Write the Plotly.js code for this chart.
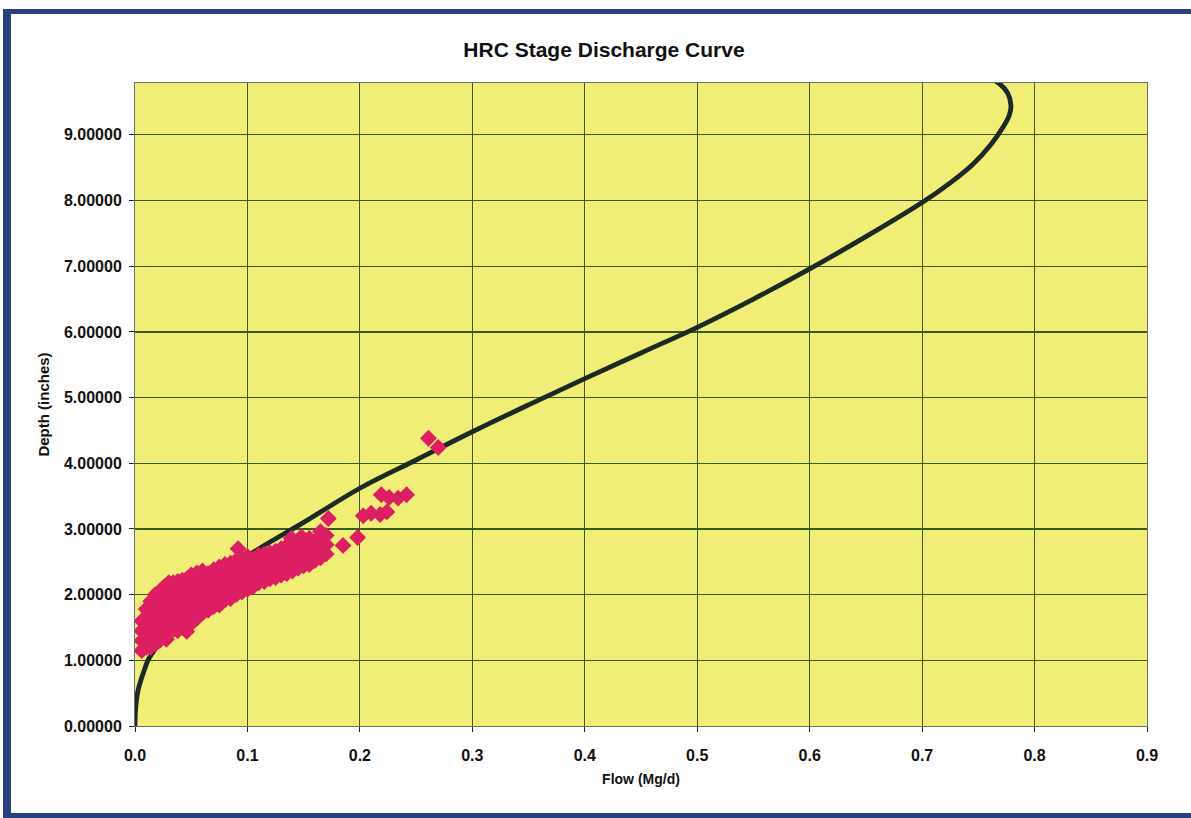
<!DOCTYPE html>
<html>
<head>
<meta charset="utf-8">
<script src="https://cdn.plot.ly/plotly-3.0.1.min.js"></script>
<style>
  html, body { margin: 0; padding: 0; background: #ffffff; }
  #chart { width: 1191px; height: 818px; }
</style>
</head>
<body>
<div id="chart"></div>
<script>
// Rating curve (stage-discharge)
const curveFlow  = [0, 0.0003, 0.0012, 0.0028, 0.0056, 0.0085, 0.0115, 0.019, 0.030, 0.044, 0.056, 0.077, 0.100, 0.150, 0.200, 0.250, 0.300, 0.350, 0.400, 0.450, 0.500, 0.550, 0.600, 0.650, 0.700, 0.725, 0.745, 0.761, 0.772, 0.7775, 0.779, 0.776, 0.768, 0.756];
const curveDepth = [0, 0.20, 0.38, 0.55, 0.72, 0.86, 1.00, 1.20, 1.50, 1.77, 2.00, 2.30, 2.59, 3.10, 3.62, 4.05, 4.48, 4.89, 5.29, 5.68, 6.07, 6.50, 6.96, 7.45, 7.97, 8.27, 8.55, 8.85, 9.12, 9.30, 9.45, 9.64, 9.79, 9.89];

const obsFlow = [
  0.006,0.006,0.006,0.006,
  0.010,0.010,0.010,0.010,0.010,
  0.014,0.014,0.014,0.014,0.014,0.014,
  0.018,0.018,0.018,0.018,0.018,0.018,
  0.022,0.022,0.022,0.022,0.022,0.022,
  0.026,0.026,0.026,0.026,0.026,0.026,
  0.028,
  0.030,0.030,0.030,0.030,0.030,0.030,
  0.034,0.034,0.034,0.034,0.034,0.034,
  0.038,0.038,0.038,0.038,0.038,0.038,
  0.042,0.042,0.042,0.042,0.042,0.042,
  0.046,0.046,0.046,0.046,0.046,0.046,
  0.050,0.050,0.050,0.050,0.050,0.050,
  0.055,0.055,0.055,0.055,0.055,0.055,
  0.060,0.060,0.060,0.060,0.060,0.060,
  0.065,0.065,0.065,0.065,0.065,
  0.070,0.070,0.070,0.070,0.070,
  0.075,0.075,0.075,0.075,0.075,
  0.080,0.080,0.080,0.080,0.080,
  0.085,0.085,0.085,0.085,0.085,
  0.090,0.090,0.090,0.090,0.090,
  0.095,0.095,0.095,0.095,0.095,
  0.100,0.100,0.100,0.100,0.100,
  0.105,0.105,0.105,0.105,
  0.110,0.110,0.110,0.110,
  0.115,0.115,0.115,0.115,
  0.120,0.120,0.120,0.120,
  0.125,0.125,0.125,0.125,
  0.130,0.130,0.130,0.130,
  0.135,0.135,0.135,0.135,
  0.140,0.140,0.140,0.140,
  0.145,0.145,0.145,
  0.150,0.150,0.150,
  0.155,0.155,0.155,0.155,
  0.160,0.160,0.160,
  0.165,0.165,0.165,0.165,
  0.170,0.170,0.170,
  0.172,0.0917,0.139,0.148,0.185,0.198,
  0.203,0.210,0.218,0.224,
  0.219,0.226,0.234,0.2415,
  0.261,0.2697
];
const obsDepth = [
  1.15,1.30,1.45,1.60,
  1.20,1.35,1.50,1.65,1.78,
  1.20,1.35,1.50,1.65,1.80,1.90,
  1.25,1.40,1.55,1.70,1.85,2.00,
  1.30,1.45,1.60,1.75,1.90,2.05,
  1.38,1.52,1.68,1.82,1.97,2.12,
  1.32,
  1.40,1.55,1.70,1.85,2.00,2.18,
  1.48,1.62,1.76,1.90,2.05,2.18,
  1.45,1.60,1.75,1.90,2.05,2.20,
  1.50,1.64,1.78,1.92,2.06,2.22,
  1.44,1.60,1.77,1.92,2.07,2.24,
  1.56,1.72,1.86,2.00,2.14,2.30,
  1.64,1.78,1.92,2.06,2.20,2.33,
  1.72,1.86,2.00,2.14,2.28,2.36,
  1.76,1.90,2.04,2.18,2.32,
  1.82,1.96,2.10,2.24,2.38,
  1.84,1.98,2.12,2.26,2.42,
  1.92,2.06,2.20,2.34,2.46,
  1.94,2.08,2.22,2.36,2.48,
  2.00,2.14,2.28,2.42,2.52,
  2.04,2.18,2.32,2.46,2.54,
  2.08,2.22,2.36,2.50,2.58,
  2.12,2.26,2.40,2.54,
  2.18,2.32,2.46,2.60,
  2.20,2.34,2.48,2.62,
  2.24,2.38,2.52,2.64,
  2.26,2.40,2.54,2.66,
  2.30,2.44,2.58,2.70,
  2.32,2.46,2.60,2.74,
  2.36,2.50,2.64,2.78,
  2.40,2.54,2.68,
  2.44,2.58,2.72,
  2.46,2.60,2.74,2.86,
  2.52,2.66,2.80,
  2.56,2.70,2.84,2.96,
  2.62,2.76,2.90,
  3.16,2.70,2.86,2.88,2.75,2.87,
  3.20,3.24,3.22,3.26,
  3.52,3.48,3.47,3.52,
  4.38,4.24
];

const xTickVals = [0, 0.1, 0.2, 0.3, 0.4, 0.5, 0.6, 0.7, 0.8, 0.9];
const yTickVals = [0, 1, 2, 3, 4, 5, 6, 7, 8, 9];

const FONT = "Liberation Sans, Arial, sans-serif";
const BLUE = "#2a3f7e";

// margins (pixels) -> paper coordinates helpers for the frame
const ML = 135, MR = 44, MT = 83, MB = 92, W = 1191, H = 818;
const PW = W - ML - MR, PH = H - MT - MB;
const px = v => (v - ML) / PW;
const py = v => (H - MB - v) / PH;

const traces = [
  {
    x: curveFlow, y: curveDepth,
    type: "scatter", mode: "lines",
    line: { color: "#1b2a24", width: 4.8, shape: "spline", smoothing: 1 },
    hoverinfo: "skip", showlegend: false
  },
  {
    x: obsFlow, y: obsDepth,
    type: "scatter", mode: "markers",
    marker: { symbol: "diamond", size: 13, color: "#dc1f63", line: { width: 0 } },
    showlegend: false
  }
];

const layout = {
  width: W, height: H,
  margin: { l: ML, r: MR, t: MT, b: MB, pad: 0 },
  paper_bgcolor: "#ffffff",
  plot_bgcolor: "#f1ee78",
  showlegend: false,
  title: {
    text: "<b>HRC Stage Discharge Curve</b>",
    font: { family: FONT, size: 21, color: "#111111" },
    x: 604 / W, xref: "container", xanchor: "center",
    y: 1 - 50 / H, yref: "container", yanchor: "middle"
  },
  xaxis: {
    range: [0, 0.9], tickvals: xTickVals, tickformat: ".1f",
    showgrid: true, gridcolor: "#3a5a1c", gridwidth: 1.2,
    zeroline: false,
    showline: true, linecolor: "#6f6f6f", linewidth: 1, mirror: true,
    ticks: "outside", ticklen: 5, tickcolor: "#222222",
    ticklabelstandoff: 10,
    tickfont: { family: FONT, size: 16, color: "#111111", weight: "bold" },
    title: { text: "<b>Flow (Mg/d)</b>", font: { family: FONT, size: 14, color: "#111111" }, standoff: 10 }
  },
  yaxis: {
    range: [0, 9.79], tickvals: yTickVals, tickformat: ".5f",
    showgrid: true, gridcolor: "#3a5a1c", gridwidth: 1.2,
    zeroline: false,
    showline: true, linecolor: "#6f6f6f", linewidth: 1, mirror: true,
    ticks: "outside", ticklen: 5, tickcolor: "#222222",
    ticklabelstandoff: 4,
    tickfont: { family: FONT, size: 16, color: "#111111", weight: "bold" },
    title: { text: "<b>Depth (inches)</b>", font: { family: FONT, size: 15, color: "#111111" }, standoff: 10 }
  },
  shapes: [
    { type: "rect", xref: "paper", yref: "paper", x0: px(3), x1: px(11), y0: py(818), y1: py(9), fillcolor: BLUE, line: { width: 0 }, layer: "above" },
    { type: "rect", xref: "paper", yref: "paper", x0: px(3), x1: px(1191), y0: py(14), y1: py(9), fillcolor: BLUE, line: { width: 0 }, layer: "above" },
    { type: "rect", xref: "paper", yref: "paper", x0: px(3), x1: px(1191), y0: py(818), y1: py(813), fillcolor: BLUE, line: { width: 0 }, layer: "above" }
  ]
};

Plotly.newPlot("chart", traces, layout, { displayModeBar: false, staticPlot: true });
</script>
</body>
</html>
